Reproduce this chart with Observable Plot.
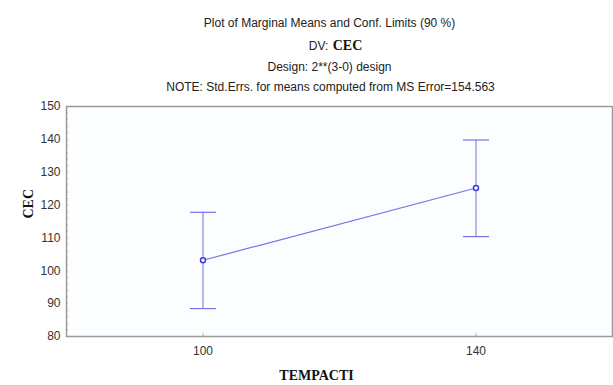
<!DOCTYPE html>
<html>
<head>
<meta charset="utf-8">
<script src="https://cdn.jsdelivr.net/npm/d3@7"></script>
<script src="https://cdn.jsdelivr.net/npm/@observablehq/plot@0.6"></script>
<style>
  html, body { margin: 0; padding: 0; background: #fff; }
  #chart { width: 613px; height: 385px; }
</style>
</head>
<body>
<div id="chart"></div>
<script>
const tempacti = [100, 140];
const means = [103.2, 125.2];
const lower = [88.5, 110.4];
const upper = [117.8, 139.8];
const yTicks = [80, 90, 100, 110, 120, 130, 140, 150];
const xTicks = [100, 140];
const titleLines = [
  "Plot of Marginal Means and Conf. Limits (90 %)",
  "Design: 2**(3-0) design",
  "NOTE: Std.Errs. for means computed from MS Error=154.563"
];

const data = tempacti.map((t, i) => ({x: t, m: means[i], lo: lower[i], hi: upper[i]}));

const capSymbol = {
  draw(ctx, size) {
    const w = Math.sqrt(size / Math.PI);
    ctx.moveTo(-w, 0);
    ctx.lineTo(w, 0);
  }
};

const lineColor = "#7474e6";
const dotColor = "#3a3ad6";
const sans = "Liberation Sans, Arial, sans-serif";
const serif = "Liberation Serif, Times New Roman, serif";

const plot = Plot.plot({
  width: 613,
  height: 385,
  marginTop: 106,
  marginLeft: 66,
  marginRight: 1,
  marginBottom: 49,
  style: {background: "#ffffff", fontFamily: sans, fontSize: "12px", color: "#333"},
  x: {domain: [80, 160]},
  y: {domain: [80, 150]},
  marks: [
    Plot.frame({fill: "#fbfdfe", stroke: "none"}),
    Plot.axisY({ticks: d3.range(80, 151, 2), tickSize: -2, stroke: "#b0b0b0", text: null}),
    Plot.axisY({ticks: yTicks, tickSize: 0, tickPadding: 6, label: null, fill: "#333", fontSize: 12}),
    Plot.axisX({ticks: xTicks, tickSize: -3, tickPadding: 13, label: null, stroke: "#b0b0b0", fill: "#333", fontSize: 12}),
    Plot.frame({stroke: "#9a9a9a", strokeWidth: 1.5}),
    Plot.ruleX(data, {x: "x", y1: "lo", y2: "hi", stroke: lineColor, strokeWidth: 1}),
    Plot.dot(data, {x: "x", y: "lo", symbol: capSymbol, r: 13, stroke: lineColor, strokeWidth: 1.2}),
    Plot.dot(data, {x: "x", y: "hi", symbol: capSymbol, r: 13, stroke: lineColor, strokeWidth: 1.2}),
    Plot.line(data, {x: "x", y: "m", stroke: lineColor, strokeWidth: 1.2}),
    Plot.dot(data, {x: "x", y: "m", r: 2.5, stroke: dotColor, strokeWidth: 1.5, fill: "#fbfdfe"}),
    // titles
    Plot.text([titleLines[0]], {frameAnchor: "top", dy: -88, dx: -10, text: d => d, fontSize: 12, fill: "#222"}),
    Plot.text(["DV:"], {frameAnchor: "top", dy: -65, dx: -21, text: d => d, fontSize: 12, fill: "#222"}),
    Plot.text(["CEC"], {frameAnchor: "top", dy: -66, dx: 8, text: d => d, fontSize: 14, fontWeight: "bold", fontFamily: serif, fill: "#111"}),
    Plot.text([titleLines[1]], {frameAnchor: "top", dy: -44, dx: -10, text: d => d, fontSize: 12, fill: "#222"}),
    Plot.text([titleLines[2]], {frameAnchor: "top", dy: -24, dx: -9, text: d => d, fontSize: 12, fill: "#222"}),
    // axis labels
    Plot.text(["TEMPACTI"], {frameAnchor: "bottom", dy: 43, dx: -23, text: d => d, fontSize: 14, fontWeight: "bold", fontFamily: serif, fill: "#111"}),
    Plot.text(["CEC"], {frameAnchor: "left", dx: -38, dy: -3, rotate: -90, text: d => d, fontSize: 14, fontWeight: "bold", fontFamily: serif, fill: "#111"})
  ]
});
document.getElementById("chart").appendChild(plot);
</script>
</body>
</html>
